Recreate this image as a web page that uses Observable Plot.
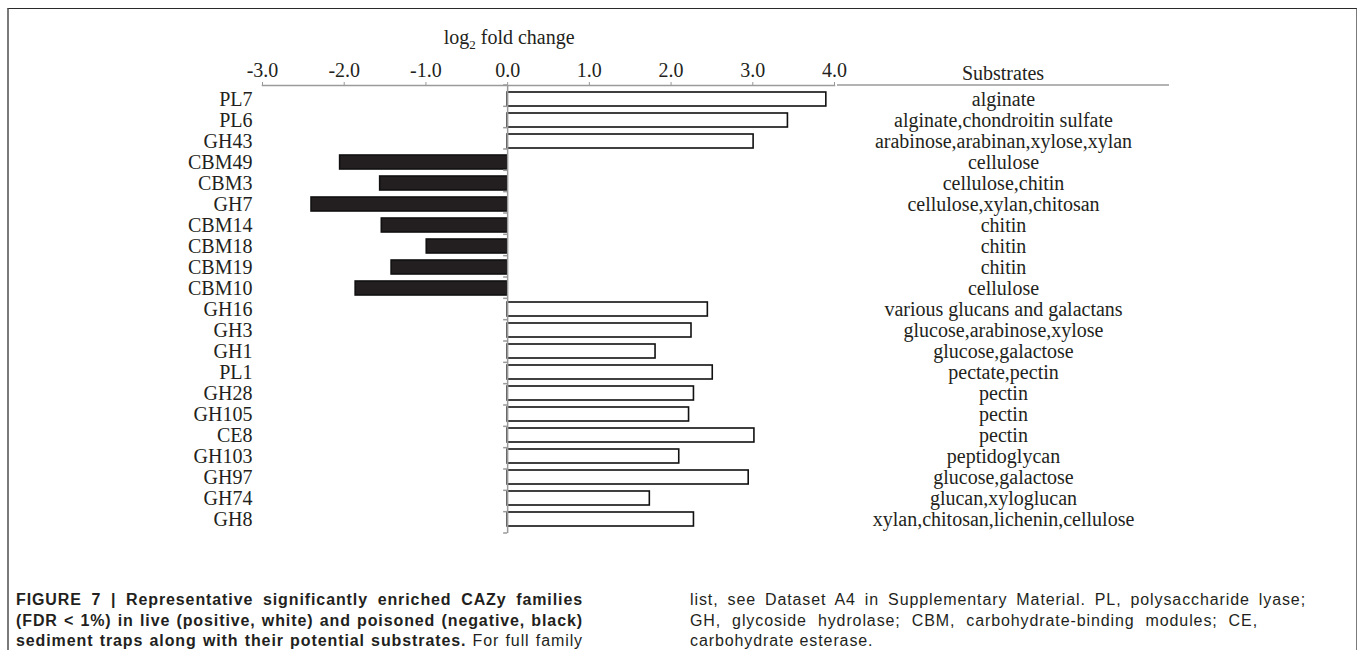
<!DOCTYPE html>
<html>
<head>
<meta charset="utf-8">
<script src="https://cdn.jsdelivr.net/npm/d3@7"></script>
<script src="https://cdn.jsdelivr.net/npm/@observablehq/plot@0.6"></script>
<style>
  html, body { margin: 0; padding: 0; background: #fff; }
  body { width: 1357px; height: 650px; position: relative; overflow: hidden; }
  #frame { position: absolute; left: 7px; top: 8px; width: 1347px; height: 700px;
           border-top: 1.5px solid #2a2a2a; border-left: 2px solid #7a7a7a; border-right: 2px solid #7a7a7a; }
  #chart { position: absolute; left: 0; top: 0; }
  .cap { position: absolute; font-family: "Liberation Sans", Arial, sans-serif; font-size: 16px; letter-spacing: 0.9px;
         color: #231f20; line-height: 20.5px; white-space: nowrap; }
  .cap.j { text-align: justify; text-align-last: justify; white-space: normal; }
  b { font-weight: bold; }
</style>
</head>
<body>
<div id="frame"></div>
<div id="chart"></div>
<div class="cap j" style="left:16px; top:590px; width:567px;"><b>FIGURE 7 | Representative significantly enriched CAZy families</b></div>
<div class="cap j" style="left:16px; top:610.5px; width:567px;"><b>(FDR &lt; 1%) in live (positive, white) and poisoned (negative, black)</b></div>
<div class="cap j" style="left:16px; top:631px; width:567px;"><b>sediment traps along with their potential substrates.</b> For full family</div>
<div class="cap j" style="left:690px; top:590px; width:616px;">list, see Dataset A4 in Supplementary Material. PL, polysaccharide lyase;</div>
<div class="cap j" style="left:690px; top:610.5px; width:568px;">GH, glycoside hydrolase; CBM, carbohydrate-binding modules; CE,</div>
<div class="cap" style="left:690px; top:631px;">carbohydrate esterase.</div>
<script>
const families = ["PL7","PL6","GH43","CBM49","CBM3","GH7","CBM14","CBM18","CBM19","CBM10","GH16","GH3","GH1","PL1","GH28","GH105","CE8","GH103","GH97","GH74","GH8"];
const log2fc = [3.90, 3.43, 3.01, -2.05, -1.56, -2.40, -1.54, -0.99, -1.42, -1.86, 2.45, 2.25, 1.81, 2.51, 2.28, 2.22, 3.02, 2.10, 2.95, 1.74, 2.28];
const substrates = ["alginate","alginate,chondroitin sulfate","arabinose,arabinan,xylose,xylan","cellulose","cellulose,chitin","cellulose,xylan,chitosan","chitin","chitin","chitin","cellulose","various glucans and galactans","glucose,arabinose,xylose","glucose,galactose","pectate,pectin","pectin","pectin","pectin","peptidoglycan","glucose,galactose","glucan,xyloglucan","xylan,chitosan,lichenin,cellulose"];
const xTicks = [-3, -2, -1, 0, 1, 2, 3, 4];
const xTitle = "log";
const xTitleSub = "2";
const xTitleRest = " fold change";
const substratesTitle = "Substrates";

const rows = families.map((f, i) => ({family: f, value: log2fc[i], substrate: substrates[i]}));

const W = 1357, H = 545, mt = 85, mb = 12, ml = 262, mr = 523;
const serif = "'Liberation Serif', 'Times New Roman', serif";
const ink = "#231f20", gray = "#9a9a9a";

const plot = Plot.plot({
  width: W, height: H,
  marginTop: mt, marginBottom: mb, marginLeft: ml, marginRight: mr,
  style: {fontFamily: serif, fontSize: "20px", color: ink, background: "transparent", overflow: "visible"},
  x: {domain: [-3, 4]},
  y: {domain: families, paddingInner: 0.35, paddingOuter: 0.175},
  marks: [
    Plot.barX(rows, {x: "value", y: "family", fill: d => d.value < 0 ? ink : "white", stroke: "#111", strokeWidth: 1.6}),
    Plot.ruleX([0], {stroke: gray, strokeWidth: 1.5}),
    Plot.frame({anchor: "top", stroke: gray, strokeWidth: 1.5}),
    Plot.axisX({anchor: "top", ticks: xTicks, tickFormat: d => d.toFixed(1), tickSize: 4, tickPadding: 5, stroke: gray, fill: ink, label: null, fontSize: 20}),
    Plot.axisY({anchor: "left", tickSize: 0, tickPadding: 10, label: null, fill: ink, fontSize: 20}),
    Plot.text(rows, {y: "family", text: "substrate", frameAnchor: "right", dx: 169, textAnchor: "middle", fill: ink, fontSize: 20})
  ]
});
document.getElementById("chart").appendChild(plot);

// decorations using the library's scales
const svg = d3.select(plot);
const xs = plot.scale("x"), ys = plot.scale("y");
const x0 = xs.apply(0);
const [r0, r1] = ys.range;
const step = (r1 - r0) / families.length;
const g = svg.append("g");
for (let i = 0; i <= families.length; i++) {
  const yy = r0 + i * step;
  g.append("line").attr("x1", x0 - 4).attr("x2", x0).attr("y1", yy).attr("y2", yy)
    .attr("stroke", gray).attr("stroke-width", 1.5);
}
const t = svg.append("text").attr("x", x0 + 2).attr("y", 44).attr("text-anchor", "middle")
  .attr("font-family", serif).attr("font-size", 20).attr("fill", ink);
t.append("tspan").text(xTitle);
t.append("tspan").attr("font-size", 13).attr("dy", 5).text(xTitleSub);
t.append("tspan").attr("dy", -5).text(xTitleRest);

const sx = W - mr + 169;
svg.append("text").attr("x", sx).attr("y", 80).attr("text-anchor", "middle")
  .attr("font-family", serif).attr("font-size", 20).attr("fill", ink).text(substratesTitle);
svg.append("line").attr("x1", W - mr + 3).attr("x2", W - mr + 335).attr("y1", r0).attr("y2", r0)
  .attr("stroke", gray).attr("stroke-width", 1.5);
</script>
</body>
</html>
